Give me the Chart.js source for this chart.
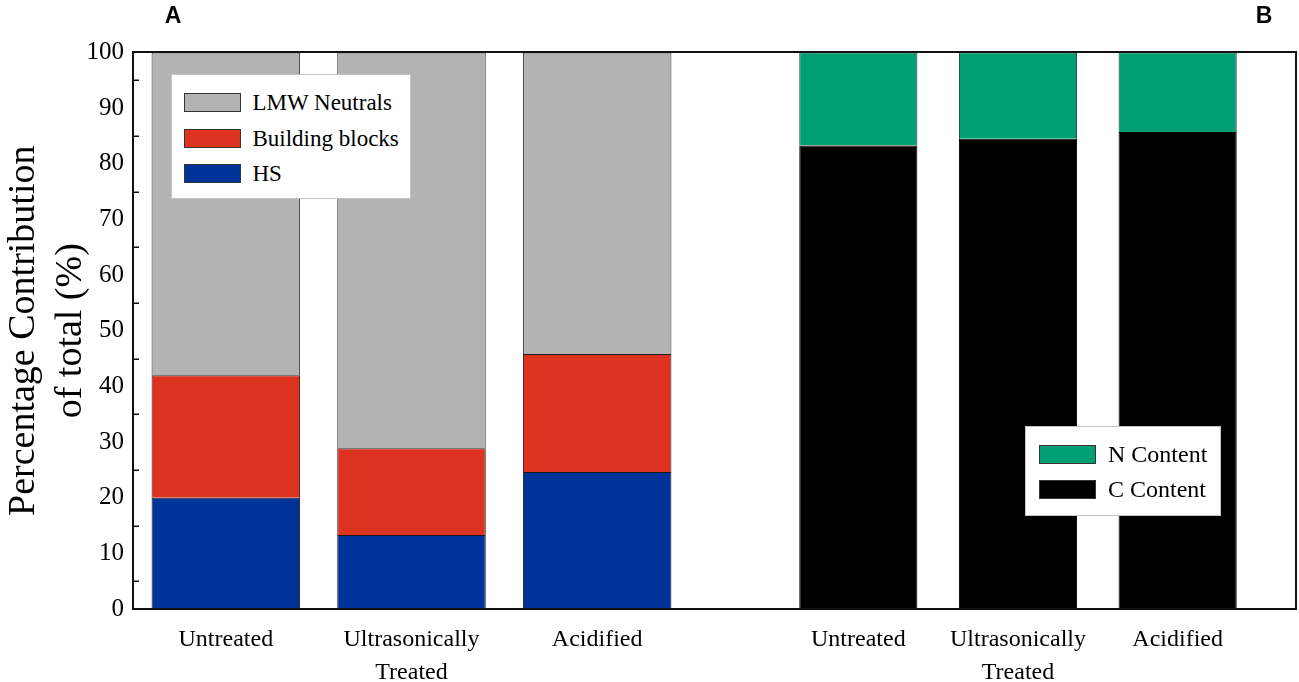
<!DOCTYPE html>
<html>
<head>
<meta charset="utf-8">
<title>Percentage contribution</title>
<script src="https://cdn.jsdelivr.net/npm/chart.js@4.4.0/dist/chart.umd.min.js"></script>
<style>
    html, body { margin: 0; padding: 0; background: #fff; }
    .mycontainer { position: relative; width: 1299px; height: 682px; overflow: hidden; }
    .mycontainer canvas { position: absolute; top: 0; }
    #chartA { left: 0; }
    #chartB { left: 690px; }
    .frame { position: absolute; left: 132px; top: 51px; width: 1165px; height: 559px;
             box-sizing: border-box; border: 2px solid #111; pointer-events: none; }
    .panel-letter { position: absolute; top: 4px; width: 40px; text-align: center; line-height: 23px;
                    font-family: "Liberation Sans", Arial, sans-serif; font-weight: bold; font-size: 23px; color: #000; }
    .legend { position: absolute; background: #fff; border: 1px solid #c4c4c4; box-sizing: border-box;
              font-family: "Liberation Serif", "Times New Roman", serif; color: #000; }
    .legend .swatch { position: absolute; width: 57px; height: 19px; box-sizing: border-box; border: 1px solid #333; }
    .legend .txt { position: absolute; height: 19px; line-height: 19px; white-space: nowrap; }
</style>
</head>
<body>
<div class="mycontainer">
    <canvas id="chartA" width="690" height="682"></canvas>
    <canvas id="chartB" width="609" height="682"></canvas>
    <div class="frame"></div>
    <div class="panel-letter" style="left:153px;">A</div>
    <div class="panel-letter" style="left:1244px;">B</div>
</div>
<script>
// data (percent of total)
var categories = ['Untreated', ['Ultrasonically', 'Treated'], 'Acidified'];

// panel A - fractions
var hsValues = [20.0, 13.3, 24.6];
var buildingBlockValues = [22.0, 15.6, 21.2];
var lmwNeutralValues = [58.0, 71.1, 54.2];

// panel B - elemental content
var cContentValues = [83.3, 84.5, 85.7];
var nContentValues = [16.7, 15.5, 14.3];

// y axis: labelled ticks and the small marks in between
var yTickLabels = [0, 10, 20, 30, 40, 50, 60, 70, 80, 90, 100];
var yMinorTicks = [5, 15, 25, 35, 45, 55, 65, 75, 85, 95];

Chart.defaults.font.family = '"Liberation Serif", "Times New Roman", serif';
Chart.defaults.color = '#000';

var xAxis = function () {
    return {
        type: 'category',
        stacked: true,
        offset: true,
        grid: { display: false, drawTicks: false },
        border: { display: false },
        ticks: { padding: 14, font: { size: 24, lineHeight: 1.375 }, color: '#000', maxRotation: 0, autoSkip: false },
        afterFit: function (scale) { scale.height = 73; }
    };
};

// short marks pointing into the plot, between the labelled values
var minorTicksPlugin = {
    id: 'minorTicks',
    afterDraw: function (chart) {
        var yScale = chart.scales.y;
        var ctx = chart.ctx;
        var x0 = chart.chartArea.left;
        ctx.save();
        ctx.strokeStyle = '#111';
        ctx.lineWidth = 1.5;
        ctx.beginPath();
        for (var i = 0; i < yMinorTicks.length; i++) {
            var py = Math.round(yScale.getPixelForValue(yMinorTicks[i])) + 0.25;
            ctx.moveTo(x0, py);
            ctx.lineTo(x0 + 6, py);
        }
        ctx.stroke();
        ctx.restore();
    }
};

var chartA = new Chart(document.getElementById('chartA').getContext('2d'), {
    type: 'bar',
    data: {
        labels: categories,
        datasets: [
            { label: 'HS', data: hsValues, backgroundColor: '#003399', borderColor: '#1a1a1a', borderWidth: 1 },
            { label: 'Building blocks', data: buildingBlockValues, backgroundColor: '#dc3220', borderColor: '#1a1a1a', borderWidth: 1 },
            { label: 'LMW Neutrals', data: lmwNeutralValues, backgroundColor: '#b3b3b3', borderColor: '#333', borderWidth: 1 }
        ]
    },
    options: {
        responsive: false,
        animation: false,
        barPercentage: 0.8,
        categoryPercentage: 1,
        layout: { padding: { top: 52.5, right: 0, bottom: 0, left: 0 } },
        plugins: { legend: { display: false }, tooltip: { enabled: false } },
        scales: {
            x: xAxis(),
            y: {
                stacked: true,
                min: 0,
                max: 100,
                border: { display: false },
                grid: { display: false, drawTicks: false },
                afterBuildTicks: function (scale) {
                    scale.ticks = yTickLabels.map(function (v) { return { value: v }; });
                },
                ticks: {
                    padding: 9,
                    font: { size: 25 },
                    color: '#000'
                },
                title: {
                    display: true,
                    text: ['Percentage Contribution', 'of total (%)'],
                    font: { size: 38, lineHeight: 1.25 },
                    color: '#000',
                    padding: { top: 0, bottom: 0 }
                },
                afterFit: function (scale) { scale.width = 133; }
            }
        }
    },
    plugins: [minorTicksPlugin]
});

var chartB = new Chart(document.getElementById('chartB').getContext('2d'), {
    type: 'bar',
    data: {
        labels: categories,
        datasets: [
            { label: 'C Content', data: cContentValues, backgroundColor: '#000000', borderColor: '#000', borderWidth: 1 },
            { label: 'N Content', data: nContentValues, backgroundColor: '#009e73', borderColor: '#1a3a30', borderWidth: 1 }
        ]
    },
    options: {
        responsive: false,
        animation: false,
        barPercentage: 0.74,
        categoryPercentage: 1,
        layout: { padding: { top: 52.5, right: 41.5, bottom: 0, left: 88.5 } },
        plugins: { legend: { display: false }, tooltip: { enabled: false } },
        scales: {
            x: xAxis(),
            y: { display: false, stacked: true, min: 0, max: 100 }
        }
    }
});

// legends drawn as html boxes inside the plot, top item = top of the stack
function buildLegend(chart, box) {
    var container = document.getElementsByClassName('mycontainer')[0];
    var el = document.createElement('div');
    el.className = 'legend';
    el.style.left = box.left + 'px';
    el.style.top = box.top + 'px';
    el.style.width = box.width + 'px';
    el.style.height = box.height + 'px';
    el.style.fontSize = box.fontSize + 'px';

    var items = chart.data.datasets.slice().reverse();
    for (var i = 0; i < items.length; i++) {
        var y = box.firstRow + i * box.rowStep;
        var sw = document.createElement('div');
        sw.className = 'swatch';
        sw.style.left = box.swatchLeft + 'px';
        sw.style.top = y + 'px';
        sw.style.background = items[i].backgroundColor;
        el.appendChild(sw);

        var tx = document.createElement('div');
        tx.className = 'txt';
        tx.style.left = box.textLeft + 'px';
        tx.style.top = y + 'px';
        tx.textContent = items[i].label;
        el.appendChild(tx);
    }
    container.appendChild(el);
}

buildLegend(chartA, { left: 170.5, top: 74, width: 240, height: 125, fontSize: 23, firstRow: 18, rowStep: 35.5, swatchLeft: 12, textLeft: 81 });
buildLegend(chartB, { left: 1025, top: 426, width: 196, height: 90, fontSize: 24, firstRow: 17.5, rowStep: 35.5, swatchLeft: 13, textLeft: 82 });
</script>
</body>
</html>
